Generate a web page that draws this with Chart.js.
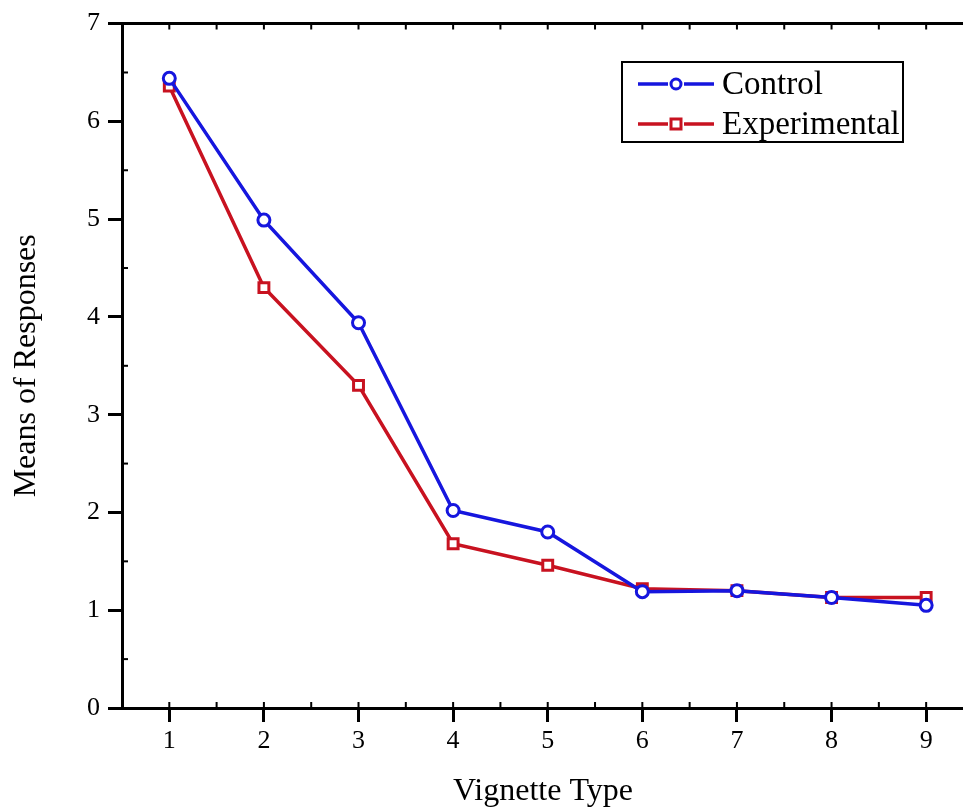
<!DOCTYPE html>
<html>
<head>
<meta charset="utf-8">
<style>
  html, body { margin: 0; padding: 0; background: #fff; overflow: hidden; }
  #wrap { width: 974px; height: 811px; }
</style>
<script src="https://cdn.jsdelivr.net/npm/chart.js@4/dist/chart.umd.min.js"></script>
</head>
<body>
<div id="wrap"><canvas id="grafico"></canvas></div>
<script>
// Dados
const tipos = [1, 2, 3, 4, 5, 6, 7, 8, 9];
const controle = [6.44, 4.99, 3.94, 2.02, 1.80, 1.19, 1.20, 1.13, 1.05];
const experimental = [6.36, 4.30, 3.30, 1.68, 1.46, 1.22, 1.20, 1.13, 1.13];
const yTicks = [0, 1, 2, 3, 4, 5, 6, 7];

const fonte = '"Liberation Serif", "Times New Roman", serif';
const azul = 'rgb(22, 22, 222)';
const vermelho = 'rgb(200, 18, 32)';

// Ticks menores e borda superior (eixo estilo Origin)
const eixosExtras = {
    id: 'eixosExtras',
    afterDraw(chart) {
        const { ctx, chartArea, scales } = chart;
        ctx.save();
        ctx.strokeStyle = '#000';
        ctx.lineWidth = 3;
        // borda superior
        ctx.beginPath();
        ctx.moveTo(chartArea.left - 14, chartArea.top);
        ctx.lineTo(chartArea.right + 20, chartArea.top);
        ctx.stroke();
        ctx.lineWidth = 2;
        // ticks menores em x (embaixo e em cima)
        for (let v = 0.5; v <= 9.5; v += 0.5) {
            const px = scales.x.getPixelForValue(v);
            if (px < chartArea.left || px > chartArea.right) continue;
            ctx.beginPath();
            ctx.moveTo(px, chartArea.bottom);
            ctx.lineTo(px, chartArea.bottom - 6);
            ctx.moveTo(px, chartArea.top);
            ctx.lineTo(px, chartArea.top + 6);
            ctx.stroke();
        }
        // ticks menores em y
        for (let v = 0.5; v < 7; v += 1) {
            const py = scales.y.getPixelForValue(v);
            ctx.beginPath();
            ctx.moveTo(chartArea.left, py);
            ctx.lineTo(chartArea.left + 6, py);
            ctx.stroke();
        }
        ctx.restore();
    }
};

// Legenda com linha + marcador
const legendaCaixa = {
    id: 'legendaCaixa',
    afterDraw(chart) {
        const { ctx } = chart;
        const x0 = 622, y0 = 62, w = 281, h = 80;
        ctx.save();
        ctx.fillStyle = '#fff';
        ctx.fillRect(x0, y0, w, h);
        ctx.strokeStyle = '#000';
        ctx.lineWidth = 2;
        ctx.strokeRect(x0, y0, w, h);
        const linhas = [
            { y: 84, cor: azul, texto: 'Control', forma: 'circle' },
            { y: 124, cor: vermelho, texto: 'Experimental', forma: 'rect' }
        ];
        linhas.forEach(l => {
            ctx.strokeStyle = l.cor;
            ctx.lineWidth = 3.5;
            ctx.beginPath();
            ctx.moveTo(638, l.y);
            ctx.lineTo(668, l.y);
            ctx.moveTo(684, l.y);
            ctx.lineTo(714, l.y);
            ctx.stroke();
            ctx.lineWidth = 3;
            ctx.fillStyle = '#fff';
            ctx.beginPath();
            if (l.forma === 'circle') {
                ctx.arc(676, l.y, 5, 0, Math.PI * 2);
            } else {
                ctx.rect(671, l.y - 5, 10, 10);
            }
            ctx.fill();
            ctx.stroke();
            ctx.fillStyle = '#000';
            ctx.font = '33px ' + fonte;
            ctx.textBaseline = 'middle';
            ctx.fillText(l.texto, 722, l.y + 1);
        });
        ctx.restore();
    }
};

function criarGrafico() {
    const ctx = document.getElementById('grafico').getContext('2d');
    new Chart(ctx, {
        type: 'line',
        data: {
            datasets: [{
                label: 'Control',
                data: tipos.map((t, i) => ({ x: t, y: controle[i] })),
                borderColor: azul,
                backgroundColor: '#fff',
                borderWidth: 3.5,
                pointStyle: 'circle',
                pointRadius: 6,
                pointBorderWidth: 3,
                pointBorderColor: azul,
                pointBackgroundColor: '#fff',
                tension: 0
            }, {
                label: 'Experimental',
                data: tipos.map((t, i) => ({ x: t, y: experimental[i] })),
                borderColor: vermelho,
                backgroundColor: '#fff',
                borderWidth: 3.5,
                pointStyle: 'rect',
                pointRadius: 7,
                pointBorderWidth: 3,
                pointBorderColor: vermelho,
                pointBackgroundColor: '#fff',
                tension: 0
            }]
        },
        options: {
            responsive: true,
            maintainAspectRatio: false,
            animation: false,
            layout: { padding: { top: 21, right: 0, left: 0, bottom: 0 } },
            plugins: {
                legend: { display: false },
                tooltip: { enabled: false }
            },
            scales: {
                x: {
                    type: 'linear',
                    min: 0.5,
                    max: 9.4,
                    afterFit(s) {
                        s.height = 103;
                        s.paddingLeft = 0;
                        s.paddingRight = 0;
                    },
                    afterBuildTicks(s) { s.ticks = tipos.map(v => ({ value: v })); },
                    border: { display: true, color: '#000', width: 3 },
                    grid: { drawOnChartArea: false, tickLength: 14, tickColor: '#000', tickWidth: 3 },
                    ticks: {
                        color: '#000',
                        font: { family: fonte, size: 26 },
                        padding: 4,
                        maxRotation: 0
                    },
                    title: {
                        display: true,
                        text: 'Vignette Type',
                        color: '#000',
                        font: { family: fonte, size: 32 },
                        padding: { top: 14, bottom: 0 }
                    }
                },
                y: {
                    min: 0,
                    max: 7,
                    afterFit(s) { s.width = 122; },
                    afterBuildTicks(s) { s.ticks = yTicks.map(v => ({ value: v })); },
                    border: { display: true, color: '#000', width: 3 },
                    grid: { drawOnChartArea: false, tickLength: 14, tickColor: '#000', tickWidth: 3 },
                    ticks: {
                        color: '#000',
                        font: { family: fonte, size: 26 },
                        padding: 8
                    },
                    title: {
                        display: true,
                        text: 'Means of Responses',
                        color: '#000',
                        font: { family: fonte, size: 32 },
                        padding: { top: 7, bottom: 0 }
                    }
                }
            }
        },
        plugins: [eixosExtras, legendaCaixa]
    });
}

criarGrafico();
</script>
</body>
</html>
